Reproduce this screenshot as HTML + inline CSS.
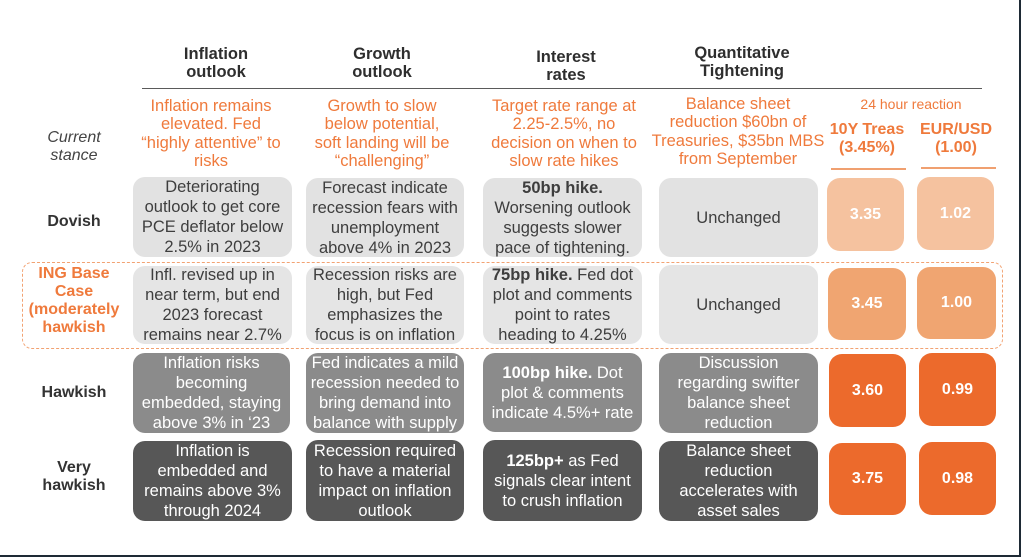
<!DOCTYPE html>
<html><head><meta charset="utf-8">
<style>
html,body{margin:0;padding:0;background:#fff;}
#c{position:relative;width:1021px;height:557px;overflow:hidden;background:#fff;font-family:"Liberation Sans",sans-serif;}
.t{position:absolute;text-align:center;white-space:nowrap;}
.h{font-weight:bold;font-size:16.5px;line-height:18px;color:#2e2e2e;width:200px;}
.o{font-size:16.5px;line-height:18.3px;color:#ef7a3c;width:220px;}
.lab{font-weight:bold;font-size:16px;line-height:18px;color:#333;width:120px;left:14px;}
.b{position:absolute;display:flex;align-items:center;justify-content:center;text-align:center;white-space:nowrap;border-radius:12px;font-size:16.5px;line-height:20px;}
.g1{background:#e2e2e2;color:#3e3e3e;}
.g2{background:#e5e5e5;color:#3e3e3e;}
.g3{background:#8b8b8b;color:#fff;}
.g4{background:#575757;color:#fff;}
.n{font-weight:bold;font-size:16px;color:#fff;border-radius:13px;}
.o1{background:#f5c29f;}
.o2{background:#f0a571;}
.o3{background:#ec6a2c;}
</style></head><body>
<div id="c">
<!-- headers -->
<div class="t h" style="left:116px;top:45px;">Inflation<br>outlook</div>
<div class="t h" style="left:282px;top:45px;">Growth<br>outlook</div>
<div class="t h" style="left:466px;top:48px;">Interest<br>rates</div>
<div class="t h" style="left:642px;top:44px;">Quantitative<br>Tightening</div>
<div style="position:absolute;left:142px;top:88px;width:840px;height:1px;background:#5a5a5a;"></div>

<!-- current stance -->
<div class="t" style="left:14px;width:120px;top:129px;font-style:italic;font-size:16px;line-height:18px;color:#444;">Current<br>stance</div>
<div class="t o" style="left:101px;top:97px;">Inflation remains<br>elevated. Fed<br>“highly attentive” to<br>risks</div>
<div class="t o" style="left:272px;top:97px;">Growth to slow<br>below potential,<br>soft landing will be<br>“challenging”</div>
<div class="t o" style="left:454px;top:97px;">Target rate range at<br>2.25-2.5%, no<br>decision on when to<br>slow rate hikes</div>
<div class="t o" style="left:628px;top:95px;">Balance sheet<br>reduction $60bn of<br>Treasuries, $35bn MBS<br>from September</div>
<div class="t" style="left:811px;width:200px;top:96px;font-size:14px;line-height:16px;color:#ef7a3c;">24 hour reaction</div>
<div class="t" style="left:817px;width:100px;top:121px;font-size:16px;line-height:18px;font-weight:bold;color:#ef7a3c;">10Y Treas<br>(3.45%)</div>
<div class="t" style="left:906px;width:100px;top:121px;font-size:16px;line-height:18px;font-weight:bold;color:#ef7a3c;">EUR/USD<br>(1.00)</div>
<div style="position:absolute;left:831px;top:168px;width:75px;height:1.5px;background:#f0a070;"></div>
<div style="position:absolute;left:921px;top:167px;width:75px;height:1.5px;background:#f0a070;"></div>

<!-- row labels -->
<div class="t lab" style="top:213px;">Dovish</div>
<div class="t lab" style="top:265px;color:#ef7a3c;">ING Base<br>Case<br>(moderately<br>hawkish</div>
<div class="t lab" style="top:384px;">Hawkish</div>
<div class="t lab" style="top:459px;">Very<br>hawkish</div>

<!-- dashed base case outline -->
<div style="position:absolute;left:22px;top:262px;width:979px;height:85px;border:1.3px dashed #f2a272;border-radius:10px;"></div>

<!-- Dovish row -->
<div class="b g1" style="left:133px;top:177px;width:159px;height:80px;">Deteriorating<br>outlook to get core<br>PCE deflator below<br>2.5% in 2023</div>
<div class="b g1" style="left:306px;top:178px;width:158px;height:79px;">Forecast indicate<br>recession fears with<br>unemployment<br>above 4% in 2023</div>
<div class="b g1" style="left:483px;top:178px;width:159px;height:79px;"><span><b>50bp hike.</b><br>Worsening outlook<br>suggests slower<br>pace of tightening.</span></div>
<div class="b g1" style="left:659px;top:178px;width:159px;height:79px;">Unchanged</div>
<div class="b n o1" style="left:827px;top:178px;width:77px;height:73px;">3.35</div>
<div class="b n o1" style="left:917px;top:177px;width:77px;height:73px;">1.02</div>

<!-- Base row -->
<div class="b g2" style="left:133px;top:266px;width:159px;height:78px;">Infl. revised up in<br>near term, but end<br>2023 forecast<br>remains near 2.7%</div>
<div class="b g2" style="left:306px;top:266px;width:158px;height:78px;">Recession risks are<br>high, but Fed<br>emphasizes the<br>focus is on inflation</div>
<div class="b g2" style="left:483px;top:266px;width:159px;height:78px;"><span><b>75bp hike.</b> Fed dot<br>plot and comments<br>point to rates<br>heading to 4.25%</span></div>
<div class="b g2" style="left:659px;top:265px;width:159px;height:79px;">Unchanged</div>
<div class="b n o2" style="left:828px;top:268px;width:78px;height:72px;">3.45</div>
<div class="b n o2" style="left:917px;top:267px;width:79px;height:72px;">1.00</div>

<!-- Hawkish row -->
<div class="b g3" style="left:133px;top:353px;width:157px;height:80px;">Inflation risks<br>becoming<br>embedded, staying<br>above 3% in ‘23</div>
<div class="b g3" style="left:306px;top:353px;width:158px;height:80px;">Fed indicates a mild<br>recession needed to<br>bring demand into<br>balance with supply</div>
<div class="b g3" style="left:483px;top:353px;width:159px;height:79px;"><span><b>100bp hike.</b> Dot<br>plot &amp; comments<br>indicate 4.5%+ rate</span></div>
<div class="b g3" style="left:659px;top:353px;width:159px;height:80px;">Discussion<br>regarding swifter<br>balance sheet<br>reduction</div>
<div class="b n o3" style="left:829px;top:354px;width:77px;height:73px;">3.60</div>
<div class="b n o3" style="left:919px;top:353px;width:77px;height:73px;">0.99</div>

<!-- Very hawkish row -->
<div class="b g4" style="left:133px;top:441px;width:159px;height:80px;">Inflation is<br>embedded and<br>remains above 3%<br>through 2024</div>
<div class="b g4" style="left:306px;top:440px;width:158px;height:81px;">Recession required<br>to have a material<br>impact on inflation<br>outlook</div>
<div class="b g4" style="left:483px;top:440px;width:159px;height:81px;"><span><b>125bp+</b> as Fed<br>signals clear intent<br>to crush inflation</span></div>
<div class="b g4" style="left:659px;top:441px;width:159px;height:80px;">Balance sheet<br>reduction<br>accelerates with<br>asset sales</div>
<div class="b n o3" style="left:829px;top:443px;width:77px;height:72px;">3.75</div>
<div class="b n o3" style="left:919px;top:442px;width:77px;height:73px;">0.98</div>

<!-- frame edges -->
<div style="position:absolute;left:1019px;top:0;width:2px;height:557px;background:#1e2a35;"></div>
<div style="position:absolute;left:0;top:555px;width:1021px;height:2px;background:#1e2a35;"></div>
</div>
</body></html>
